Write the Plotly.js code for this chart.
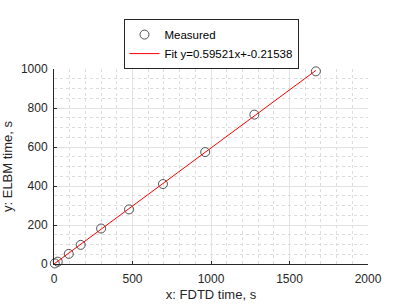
<!DOCTYPE html>
<html>
<head>
<meta charset="utf-8">
<script src="https://cdn.plot.ly/plotly-3.0.1.min.js"></script>
<style>html,body{margin:0;padding:0;background:#fff;}#chart{width:407px;height:305px;}</style>
</head>
<body>
<div id="chart"></div>
<script>
var measuredX = [5, 24, 94, 170, 300, 478, 694, 963, 1276, 1668];
var measuredY = [3, 12, 52, 98, 182, 280, 410, 574, 766, 988];
var fitX = [0, 1668];
var fitY = [-0.22, 992.6];
var xTicks = [0, 500, 1000, 1500, 2000];
var yTicks = [0, 200, 400, 600, 800, 1000];

var font = 'Liberation Sans, Arial, sans-serif';
var traces = [
  {x: measuredX, y: measuredY, type: 'scatter', mode: 'markers', name: 'Measured', cliponaxis: false,
   marker: {symbol: 'circle-open', size: 9, color: '#404040', line: {width: 0.9, color: '#404040'}}},
  {x: fitX, y: fitY, type: 'scatter', mode: 'lines', name: 'Fit y=0.59521x+-0.21538', cliponaxis: false,
   line: {color: '#ff0000', width: 1}}
];
var axisCommon = {
  showline: true, linecolor: '#262626', linewidth: 1,
  ticks: 'inside', ticklen: 3, tickcolor: '#262626', tickwidth: 1,
  showgrid: true, gridcolor: '#e3e3e3', gridwidth: 1,
  zeroline: false,
  tickfont: {family: font, size: 12, color: '#262626'},
  minor: {showgrid: true, gridcolor: '#dcdcdc', griddash: 'dot', gridwidth: 1, ticks: ''}
};
var layout = {
  width: 407, height: 305,
  margin: {l: 53.5, r: 38.7, t: 69, b: 41},
  paper_bgcolor: '#ffffff', plot_bgcolor: '#ffffff',
  showlegend: true,
  xaxis: Object.assign({}, axisCommon, {
    range: [0, 2000], tickvals: xTicks, ticktext: xTicks.map(String),
    ticklabelstandoff: 4,
    minor: Object.assign({}, axisCommon.minor, {dtick: 100}),
    title: {text: 'x: FDTD time, s', font: {family: font, size: 13, color: '#262626'}, standoff: 4}
  }),
  yaxis: Object.assign({}, axisCommon, {
    range: [0, 1000], tickvals: yTicks, ticktext: yTicks.map(String),
    ticklabelstandoff: 3,
    minor: Object.assign({}, axisCommon.minor, {dtick: 50}),
    title: {text: 'y: ELBM time, s', font: {family: font, size: 13, color: '#262626'}, standoff: 6}
  }),
  legend: {
    x: 0.5, xanchor: 'center', y: 1.256, yanchor: 'top',
    bgcolor: '#ffffff', bordercolor: '#262626', borderwidth: 1,
    font: {family: font, size: 11.5, color: '#000000'},
    tracegroupgap: 0, itemwidth: 30
  }
};
Plotly.newPlot('chart', traces, layout, {displayModeBar: false, staticPlot: true});
</script>
</body>
</html>
